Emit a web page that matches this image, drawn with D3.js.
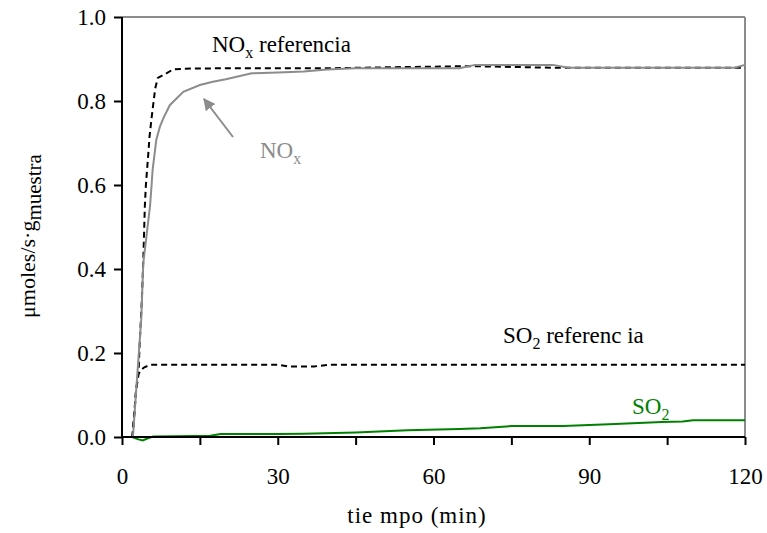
<!DOCTYPE html>
<html>
<head>
<meta charset="utf-8">
<script src="https://cdn.jsdelivr.net/npm/d3@7"></script>
<style>
  html, body { margin: 0; padding: 0; background: #fff; }
  svg text { font-family: "Liberation Serif", "Times New Roman", serif !important; }
</style>
</head>
<body>
<svg id="chart" width="767" height="533"></svg>
<script>
// ---- data ----
const xTicks = [0, 30, 60, 90, 120];
const xMinorTicks = [0, 15, 30, 45, 60, 75, 90, 105, 120];
const yTicks = [0, 0.2, 0.4, 0.6, 0.8, 1.0];

const noxRefT = [0, 2.0, 2.4, 2.7, 3.2, 3.4, 3.6, 3.8, 4.1, 4.4, 4.6, 5.1, 5.3, 5.7, 6.0, 6.4, 6.9, 8, 9.8, 12, 20, 30, 40, 50, 67, 84, 101, 120];
const noxRefV = [0, 0, 0.06, 0.11, 0.16, 0.22, 0.27, 0.32, 0.42, 0.55, 0.60, 0.68, 0.715, 0.76, 0.79, 0.83, 0.855, 0.862, 0.875, 0.877, 0.878, 0.878, 0.878, 0.880, 0.883, 0.879, 0.879, 0.879];

const so2RefT = [0, 2.0, 2.4, 2.7, 3.2, 3.7, 4.3, 5.5, 10, 30, 32, 37, 40, 120];
const so2RefV = [0, 0, 0.06, 0.11, 0.15, 0.16, 0.166, 0.172, 0.172, 0.172, 0.168, 0.168, 0.172, 0.172];

const noxT = [0, 2.1, 3.7, 4.1, 5.4, 5.7, 5.9, 6.6, 7.3, 8, 9.2, 11.8, 15, 17.5, 20, 25, 30, 35, 39.5, 45, 60, 65, 68, 83, 86, 118, 120];
const noxV = [0, 0, 0.28, 0.414, 0.55, 0.60, 0.636, 0.707, 0.739, 0.76, 0.79, 0.822, 0.838, 0.846, 0.852, 0.866, 0.868, 0.870, 0.875, 0.878, 0.878, 0.878, 0.886, 0.886, 0.879, 0.879, 0.886];

const so2T = [0, 2, 3, 4, 5, 6, 10, 17, 19, 30, 35, 45, 55, 65, 69, 75, 85, 95, 104, 108, 110, 120];
const so2V = [0, 0, -0.005, -0.008, -0.003, 0.001, 0.002, 0.003, 0.007, 0.007, 0.008, 0.011, 0.016, 0.019, 0.021, 0.026, 0.026, 0.031, 0.036, 0.037, 0.040, 0.040];

// ---- layout ----
const L = 122, R = 745, T = 17, B = 437;
const SERIF = '"Liberation Serif", "Times New Roman", serif';
const svg = d3.select("#chart");
const x = d3.scaleLinear().domain([0, 120]).range([L, R]);
const y = d3.scaleLinear().domain([0, 1]).range([B, T]);
const FS = 23;

const line = d3.line().x(d => x(d[0])).y(d => y(d[1]));
const zip = (a, b) => a.map((v, i) => [v, b[i]]);

// frame: top & right gray
svg.append("line").attr("x1", L).attr("x2", R).attr("y1", T).attr("y2", T)
  .attr("stroke", "#8c8c8c").attr("stroke-width", 2);
svg.append("line").attr("x1", R).attr("x2", R).attr("y1", T).attr("y2", B)
  .attr("stroke", "#8c8c8c").attr("stroke-width", 2);

// series
svg.append("path").datum(zip(so2RefT, so2RefV)).attr("d", line)
  .attr("fill", "none").attr("stroke", "#000").attr("stroke-width", 2).attr("stroke-dasharray", "6,4");
svg.append("path").datum(zip(noxRefT, noxRefV)).attr("d", line)
  .attr("fill", "none").attr("stroke", "#000").attr("stroke-width", 2).attr("stroke-dasharray", "6,4");
svg.append("path").datum(zip(noxT, noxV)).attr("d", line)
  .attr("fill", "none").attr("stroke", "#8c8c8c").attr("stroke-width", 2);
svg.append("path").datum(zip(so2T, so2V)).attr("d", line)
  .attr("fill", "none").attr("stroke", "#008000").attr("stroke-width", 2);

// axes
const xAxis = svg.append("g").attr("transform", `translate(0,${B})`)
  .call(d3.axisBottom(x).tickValues(xMinorTicks).tickSize(8).tickFormat(d => xTicks.includes(d) ? d : ""));
xAxis.attr("font-family", SERIF);
xAxis.select(".domain").attr("stroke", "#000").attr("stroke-width", 2).attr("d", `M${L},0H${R}`);
xAxis.selectAll(".tick line").attr("stroke", "#000").attr("stroke-width", 2);
xAxis.selectAll(".tick text").attr("font-size", FS).attr("fill", "#000")
  .style("font-family", SERIF).attr("y", 47).attr("dy", 0);

const yAxis = svg.append("g").attr("transform", `translate(${L},0)`)
  .call(d3.axisLeft(y).tickValues(yTicks).tickSize(8).tickFormat(d3.format(".1f")));
yAxis.attr("font-family", SERIF);
yAxis.select(".domain").attr("stroke", "#000").attr("stroke-width", 2).attr("d", `M0,${T}V${B}`);
yAxis.selectAll(".tick line").attr("stroke", "#000").attr("stroke-width", 2);
yAxis.selectAll(".tick text").attr("font-size", FS).attr("fill", "#000")
  .style("font-family", SERIF).attr("x", -16);

// axis titles
svg.append("text").attr("x", 417).attr("y", 523).attr("text-anchor", "middle")
  .attr("font-size", FS).style("font-family", SERIF).style("letter-spacing", "1px")
  .text("tie mpo (min)");

const yl = svg.append("text").attr("transform", `translate(35,236) rotate(-90)`)
  .attr("text-anchor", "middle").attr("font-size", 22).style("font-family", SERIF);
yl.append("tspan").text("μmoles/s·g");
yl.append("tspan").attr("font-size", 21).attr("dy", 6).text("muestra");

// annotations
function subLabel(px, py, main, sub, tail, color) {
  const t = svg.append("text").attr("x", px).attr("y", py).attr("font-size", FS)
    .attr("fill", color).style("font-family", SERIF);
  t.append("tspan").text(main);
  t.append("tspan").attr("font-size", 16).attr("dy", 6).text(sub);
  if (tail) t.append("tspan").attr("dy", -6).text(tail);
}
subLabel(212, 52, "NO", "x", " referencia", "#000");
subLabel(503, 343, "SO", "2", " referenc ia", "#000");
subLabel(260, 158, "NO", "x", null, "#8c8c8c");
subLabel(632, 414, "SO", "2", null, "#008000");

// arrow
svg.append("defs").append("marker").attr("id", "ah").attr("viewBox", "0 0 10 10")
  .attr("refX", 9).attr("refY", 5).attr("markerWidth", 6).attr("markerHeight", 6)
  .attr("orient", "auto").attr("markerUnits", "strokeWidth")
  .append("path").attr("d", "M0,0L10,5L0,10z").attr("fill", "#8c8c8c");
svg.append("line").attr("x1", 233).attr("y1", 137).attr("x2", 204).attr("y2", 99)
  .attr("stroke", "#8c8c8c").attr("stroke-width", 2).attr("marker-end", "url(#ah)");
</script>
</body>
</html>
